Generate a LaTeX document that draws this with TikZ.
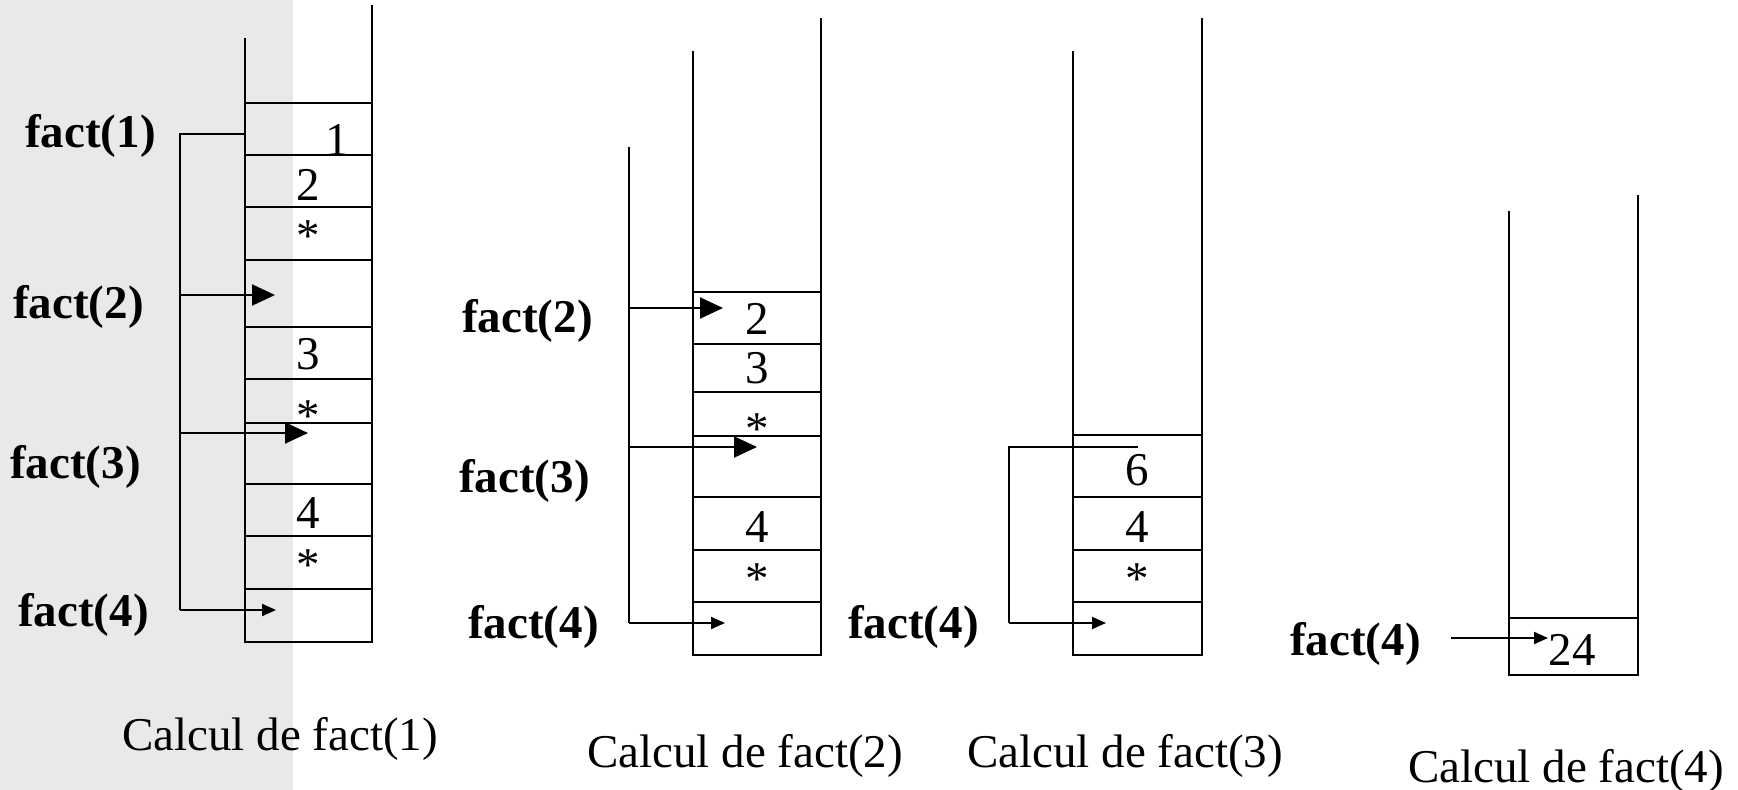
\documentclass[tikz,border=0pt]{standalone}
\usepackage{fontspec}
\setmainfont{Liberation Serif}
\usetikzlibrary{arrows.meta}
\definecolor{bggray}{RGB}{233,233,233}
\begin{document}
\begin{tikzpicture}[x=1pt,y=-1pt,
  wall/.style={line width=2pt},
  cell/.style={draw, line width=2pt, inner sep=0pt, outer sep=0pt, anchor=north west},
  val/.style={inner sep=0pt, anchor=base, font={\fontsize{47}{56}\selectfont}},
  lab/.style={inner sep=0pt, anchor=base west, font={\fontsize{47}{56}\selectfont\bfseries}},
  captxt/.style={inner sep=0pt, anchor=base west, font={\fontsize{47}{56}\selectfont}},
  link/.style={line width=2pt},
  bigarr/.style={line width=2pt, -{Triangle[length=23pt,width=21pt]}},
  smallarr/.style={line width=2pt, -{Triangle[length=14pt,width=12pt]}}
]
\useasboundingbox (0,0) rectangle (1738,790);
\fill[bggray] (0,0) rectangle (293,790);

% ---------------- Stack 1 ----------------
\node[cell, minimum width=127pt, minimum height=52pt] (a1) at (245,103) {};
\node[cell, minimum width=127pt, minimum height=52pt] (a2) at (245,155) {};
\node[cell, minimum width=127pt, minimum height=53pt] (a3) at (245,207) {};
\node[cell, minimum width=127pt, minimum height=67pt] (a4) at (245,260) {};
\node[cell, minimum width=127pt, minimum height=52pt] (a5) at (245,327) {};
\node[cell, minimum width=127pt, minimum height=44pt] (a6) at (245,379) {};
\node[cell, minimum width=127pt, minimum height=61pt] (a7) at (245,423) {};
\node[cell, minimum width=127pt, minimum height=52pt] (a8) at (245,484) {};
\node[cell, minimum width=127pt, minimum height=53pt] (a9) at (245,536) {};
\node[cell, minimum width=127pt, minimum height=53pt] (a10) at (245,589) {};
\coordinate (a1l) at (245,38);
\coordinate (a1r) at (372,5);
\draw[wall] (a1.north west) -- (a1l);
\draw[wall] (a1.north east) -- (a1r);

\node[val] (v11) at (337,155) {1};
\node[val] (v12) at (308,200) {2};
\node[val] (v13) at (308,251) {*};
\node[val] (v14) at (308,369) {3};
\node[val] (v15) at (308,431) {*};
\node[val] (v16) at (308,528) {4};
\node[val] (v17) at (308,580) {*};

\node[lab] (f11) at (25,147) {fact(1)};
\node[lab] (f12) at (13,318) {fact(2)};
\node[lab] (f13) at (10,478) {fact(3)};
\node[lab] (f14) at (18,626) {fact(4)};

\coordinate (a1s) at (245,134);
\coordinate (a1k) at (180,134);
\coordinate (a1t2) at (275,295);
\coordinate (a1t3) at (308,433);
\coordinate (a1t4) at (276,610);
\draw[link] (a1s) -- (a1k) -- (a1k |- a1t4);
\draw[bigarr] (a1k |- a1t2) -- (a1t2);
\draw[bigarr] (a1k |- a1t3) -- (a1t3);
\draw[smallarr] (a1k |- a1t4) -- (a1t4);

\node[captxt] (c1) at (122,750) {Calcul de fact(1)};

% ---------------- Stack 2 ----------------
\node[cell, minimum width=128pt, minimum height=52pt] (b1) at (693,292) {};
\node[cell, minimum width=128pt, minimum height=48pt] (b2) at (693,344) {};
\node[cell, minimum width=128pt, minimum height=44pt] (b3) at (693,392) {};
\node[cell, minimum width=128pt, minimum height=61pt] (b4) at (693,436) {};
\node[cell, minimum width=128pt, minimum height=53pt] (b5) at (693,497) {};
\node[cell, minimum width=128pt, minimum height=52pt] (b6) at (693,550) {};
\node[cell, minimum width=128pt, minimum height=53pt] (b7) at (693,602) {};
\coordinate (b1l) at (693,51);
\coordinate (b1r) at (821,18);
\draw[wall] (b1.north west) -- (b1l);
\draw[wall] (b1.north east) -- (b1r);

\node[val] (v21) at (757,334) {2};
\node[val] (v22) at (757,383) {3};
\node[val] (v23) at (757,444) {*};
\node[val] (v24) at (757,542) {4};
\node[val] (v25) at (757,594) {*};

\node[lab] (f22) at (462,332) {fact(2)};
\node[lab] (f23) at (459,492) {fact(3)};
\node[lab] (f24) at (468,638) {fact(4)};

\coordinate (b1k) at (629,147);
\coordinate (b1t2) at (723,308);
\coordinate (b1t3) at (757,447);
\coordinate (b1t4) at (725,623);
\draw[link] (b1k) -- (b1k |- b1t4);
\draw[bigarr] (b1k |- b1t2) -- (b1t2);
\draw[bigarr] (b1k |- b1t3) -- (b1t3);
\draw[smallarr] (b1k |- b1t4) -- (b1t4);

\node[captxt] (c2) at (587,767) {Calcul de fact(2)};

% ---------------- Stack 3 ----------------
\node[cell, minimum width=129pt, minimum height=62pt] (d1) at (1073,435) {};
\node[cell, minimum width=129pt, minimum height=53pt] (d2) at (1073,497) {};
\node[cell, minimum width=129pt, minimum height=52pt] (d3) at (1073,550) {};
\node[cell, minimum width=129pt, minimum height=53pt] (d4) at (1073,602) {};
\coordinate (d1l) at (1073,51);
\coordinate (d1r) at (1202,18);
\draw[wall] (d1.north west) -- (d1l);
\draw[wall] (d1.north east) -- (d1r);

\node[val] (v31) at (1137,485) {6};
\node[val] (v32) at (1137,542) {4};
\node[val] (v33) at (1137,594) {*};

\node[lab] (f34) at (848,638) {fact(4)};

\coordinate (d1s) at (1138,447);
\coordinate (d1k) at (1009,447);
\coordinate (d1t4) at (1106,623);
\draw[link] (d1s) -- (d1k) -- (d1k |- d1t4);
\draw[smallarr] (d1k |- d1t4) -- (d1t4);

\node[captxt] (c3) at (967,767) {Calcul de fact(3)};

% ---------------- Stack 4 ----------------
\node[cell, minimum width=129pt, minimum height=57pt] (e1) at (1509,618) {};
\coordinate (e1l) at (1509,211);
\coordinate (e1r) at (1638,195);
\draw[wall] (e1.north west) -- (e1l);
\draw[wall] (e1.north east) -- (e1r);

\node[val] (v41) at (1572,665) {24};
\node[lab] (f44) at (1290,655) {fact(4)};

\coordinate (e1s) at (1451,638);
\coordinate (e1t) at (1548,638);
\draw[smallarr] (e1s) -- (e1t);

\node[captxt] (c4) at (1408,782) {Calcul de fact(4)};
\end{tikzpicture}
\end{document}
